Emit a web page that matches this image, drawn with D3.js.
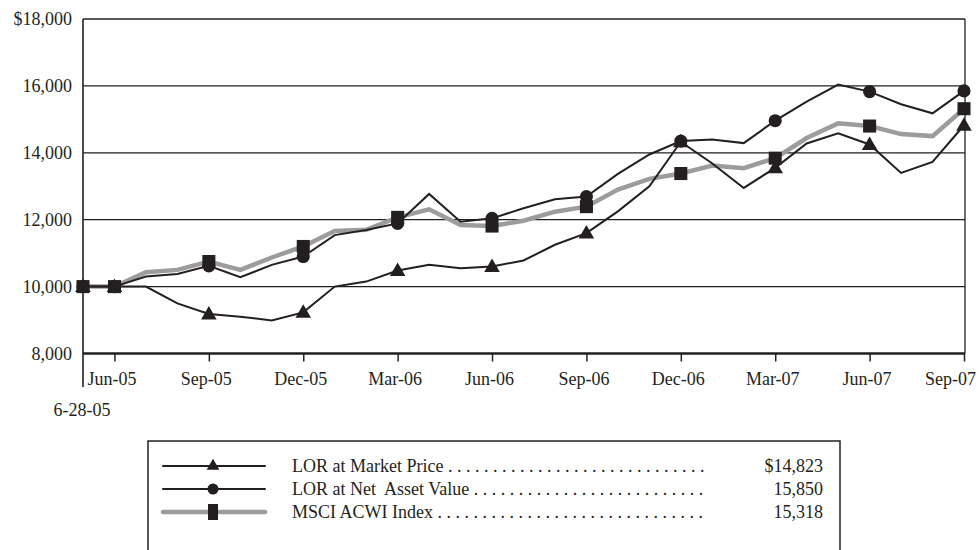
<!DOCTYPE html>
<html>
<head>
<meta charset="utf-8">
<script src="https://cdn.jsdelivr.net/npm/d3@7"></script>
<style>
  body { margin: 0; background: #fff; }
  text { font-family: "Liberation Serif", "Times New Roman", serif; fill: #231f20; }
</style>
</head>
<body>
<svg id="chart" width="980" height="550"></svg>
<script>
// growth of $10,000, monthly, 6-28-05 to Sep-07
const months = [
  "6-28-05", "Jun-05", "Jul-05", "Aug-05", "Sep-05", "Oct-05", "Nov-05", "Dec-05",
  "Jan-06", "Feb-06", "Mar-06", "Apr-06", "May-06", "Jun-06", "Jul-06", "Aug-06", "Sep-06", "Oct-06", "Nov-06", "Dec-06",
  "Jan-07", "Feb-07", "Mar-07", "Apr-07", "May-07", "Jun-07", "Jul-07", "Aug-07", "Sep-07"
];
const marketPrice = [
  10000, 10000, 10000, 9500, 9180, 9100, 8990, 9230,
  10000, 10150, 10480, 10650, 10550, 10600, 10780, 11250, 11600, 12250, 13000, 14330,
  13680, 12950, 13550, 14280, 14580, 14250, 13400, 13730, 14823
];
const netAssetValue = [
  10000, 10000, 10300, 10380, 10620, 10280, 10650, 10900,
  11540, 11690, 11890, 12770, 11940, 12040, 12340, 12610, 12690, 13370, 13950, 14350,
  14400, 14290, 14960, 15530, 16040, 15830, 15450, 15180, 15850
];
const msciAcwi = [
  10000, 10000, 10430, 10500, 10750, 10500, 10870, 11200,
  11660, 11700, 12070, 12310, 11840, 11810, 11970, 12240, 12390, 12900, 13220, 13380,
  13620, 13540, 13840, 14440, 14880, 14800, 14560, 14500, 15318
];
const yTicks = [8000, 10000, 12000, 14000, 16000, 18000];
const xTickLabels = ["Jun-05", "Sep-05", "Dec-05", "Mar-06", "Jun-06", "Sep-06", "Dec-06", "Mar-07", "Jun-07", "Sep-07"];
const startLabel = "6-28-05";
const legendNames = ["LOR at Market Price", "LOR at Net  Asset Value", "MSCI ACWI Index"];
const legendValues = ["$14,823", "15,850", "15,318"];

const svg = d3.select("#chart");
const plotL = 83, plotR = 965, plotT = 19, plotB = 353.5;

const x = d3.scalePoint().domain(months).range([plotL, 964]);
const y = d3.scaleLinear().domain([8000, 18000]).range([plotB, plotT]);
const fmt = d3.format(",");

// grid lines
svg.append("g").selectAll("line")
  .data(yTicks.filter(d => d > 8000))
  .join("line")
  .attr("x1", plotL).attr("x2", plotR)
  .attr("y1", d => y(d)).attr("y2", d => y(d))
  .attr("stroke", "#231f20").attr("stroke-width", 1.3);

// right border
svg.append("line")
  .attr("x1", plotR).attr("x2", plotR).attr("y1", plotT).attr("y2", plotB)
  .attr("stroke", "#231f20").attr("stroke-width", 1.3);

// y axis labels
const yAxis = svg.append("g")
  .attr("transform", `translate(${plotL},0)`)
  .call(d3.axisLeft(y).tickValues(yTicks).tickSize(0).tickPadding(11)
    .tickFormat(d => (d === 18000 ? "$" : "") + fmt(d)));
yAxis.select(".domain").remove();
yAxis.selectAll("text").attr("font-size", 18).attr("font-family", null).attr("fill", null);

// x axis
const xAxis = svg.append("g")
  .attr("transform", `translate(0,${plotB})`)
  .call(d3.axisBottom(x).tickValues(xTickLabels).tickSize(8).tickPadding(11));
xAxis.select(".domain").remove();
xAxis.selectAll(".tick line").attr("stroke", "#231f20").attr("stroke-width", 1.5);
xAxis.selectAll("text").attr("font-size", 18).attr("font-family", null).attr("fill", null)
  .attr("dx", d => d === "Sep-07" ? -14 : -3);

// baseline and left axis
svg.append("line")
  .attr("x1", plotL).attr("x2", plotR).attr("y1", plotB).attr("y2", plotB)
  .attr("stroke", "#231f20").attr("stroke-width", 2.5);
svg.append("line")
  .attr("x1", plotL).attr("x2", plotL).attr("y1", plotT).attr("y2", 387)
  .attr("stroke", "#231f20").attr("stroke-width", 1.6);

svg.append("text")
  .attr("x", x(startLabel) - 1).attr("y", 416)
  .attr("text-anchor", "middle").attr("font-size", 18)
  .text(startLabel);

// lines
const line = d3.line().x((d, i) => x(months[i])).y(d => y(d));
const series = [
  { values: msciAcwi, color: "#9c9c9c", width: 4.5, shape: "square" },
  { values: marketPrice, color: "#231f20", width: 2, shape: "triangle" },
  { values: netAssetValue, color: "#231f20", width: 2, shape: "circle" }
];
series.forEach(s => {
  svg.append("path").datum(s.values)
    .attr("d", line)
    .attr("fill", "none")
    .attr("stroke", s.color)
    .attr("stroke-width", s.width)
    .attr("stroke-linejoin", "miter");
});

// markers at inception and quarter ends
const markerIdx = months.map((m, i) => i).filter(i => i === 0 || xTickLabels.includes(months[i]));
const symbolOf = {
  triangle: d3.symbol().type(d3.symbolTriangle).size(105),
  circle: d3.symbol().type(d3.symbolCircle).size(135),
  square: d3.symbol().type(d3.symbolSquare).size(170)
};
["triangle", "circle", "square"].forEach(shape => {
  const s = series.find(d => d.shape === shape);
  svg.append("g").selectAll("path")
    .data(markerIdx)
    .join("path")
    .attr("transform", i => `translate(${x(months[i])},${y(s.values[i]) + (shape === "triangle" ? 1 : 0)})`)
    .attr("d", symbolOf[shape])
    .attr("fill", "#231f20");
});

// legend
const lg = svg.append("g");
lg.append("path")
  .attr("d", "M148,551 V441 H840 V551")
  .attr("fill", "none").attr("stroke", "#231f20").attr("stroke-width", 1.5);

const rowY = [466, 489, 512];
const legendSeries = [series[1], series[2], series[0]];
legendSeries.forEach((s, k) => {
  const ry = rowY[k];
  lg.append("line")
    .attr("x1", 163).attr("x2", 265).attr("y1", ry).attr("y2", ry)
    .attr("stroke", s.color).attr("stroke-width", s.width).attr("stroke-linecap", "round");
  if (s.shape === "square") {
    lg.append("rect").attr("x", 208).attr("y", ry - 8).attr("width", 10).attr("height", 16).attr("fill", "#231f20");
  } else {
    const sym = s.shape === "triangle" ? d3.symbol().type(d3.symbolTriangle).size(70)
      : d3.symbol().type(d3.symbolCircle).size(95);
    lg.append("path").attr("transform", `translate(213,${ry})`).attr("d", sym).attr("fill", "#231f20");
  }
  const t = lg.append("text")
    .attr("x", 292).attr("y", ry + 6)
    .attr("font-size", 18)
    .style("white-space", "pre")
    .text(legendNames[k]);
  let dots = "";
  const base = legendNames[k];
  while (true) {
    t.text(base + dots + " .");
    if (292 + t.node().getComputedTextLength() > 707) break;
    dots += " .";
  }
  t.text(base + dots);
  lg.append("text")
    .attr("x", 823).attr("y", ry + 6)
    .attr("text-anchor", "end").attr("font-size", 18)
    .text(legendValues[k]);
});
</script>
</body>
</html>
